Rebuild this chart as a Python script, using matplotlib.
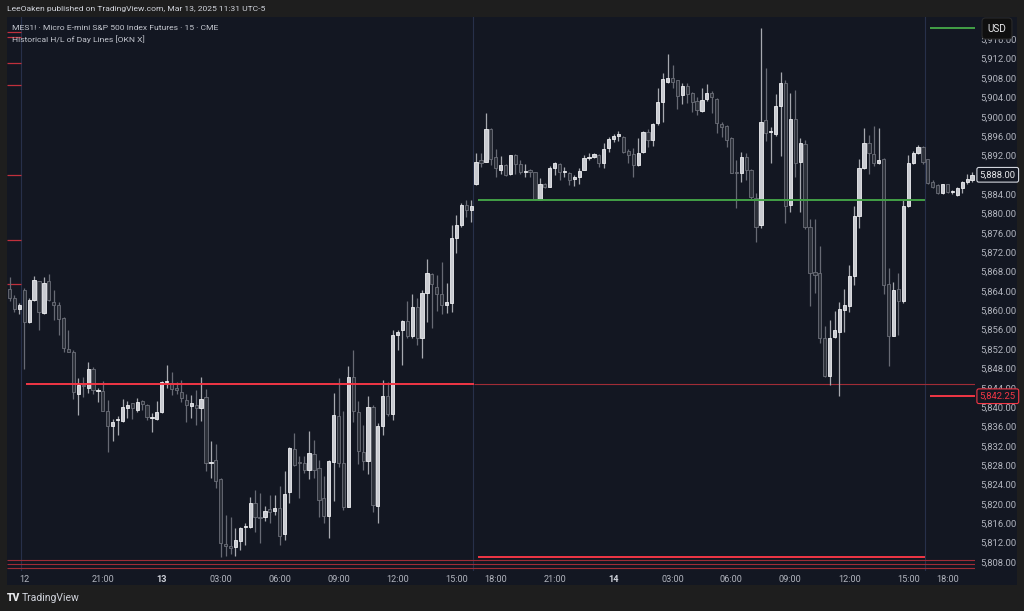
import numpy as np
import matplotlib.pyplot as plt
from matplotlib.ticker import FuncFormatter
from matplotlib.patches import Rectangle

plt.rcParams['font.family'] = ['Roboto', 'DejaVu Sans']

# 15 minute bars of MES1!, first bar index is -3 (end of the previous session)
first_bar = -3
opens = [
    5864.4, 5862.5, 5860.2, 5864.2, 5857.5, 5862.2, 5866.0, 5859.4, 5866.0, 5861.8,
    5861.1, 5858.5, 5852.0, 5851.4, 5842.8, 5844.5, 5844.0, 5847.8, 5843.3, 5843.3,
    5839.3, 5836.2, 5837.3, 5837.2, 5839.8, 5840.8, 5839.4, 5841.3, 5840.5, 5837.7,
    5837.6, 5838.9, 5845.1, 5845.0, 5844.0, 5843.2, 5841.5, 5840.2, 5840.5, 5839.8,
    5842.0, 5828.4, 5829.1, 5825.1, 5811.7, 5811.4, 5811.0, 5812.3, 5815.2, 5815.2,
    5820.1, 5817.1, 5817.2, 5818.9, 5818.6, 5819.1, 5813.8, 5822.5, 5831.3, 5828.5,
    5828.4, 5827.0, 5830.3, 5827.4, 5821.2, 5817.5, 5828.7, 5838.2, 5828.4, 5819.4,
    5846.3, 5838.9, 5830.8, 5828.9, 5840.1, 5819.6, 5836.0, 5842.3, 5838.6, 5854.9,
    5855.9, 5857.7, 5854.7, 5860.6, 5854.3, 5863.6, 5867.6, 5864.9, 5863.4, 5861.1,
    5861.6, 5874.9, 5877.6, 5881.8, 5880.7, 5886.1, 5891.0, 5890.7, 5897.4, 5891.7,
    5889.0, 5890.0, 5888.2, 5892.1, 5890.2, 5888.6, 5889.0, 5888.5, 5882.8, 5886.1,
    5885.5, 5889.3, 5890.2, 5888.6, 5888.4, 5887.1, 5887.6, 5889.0, 5891.5, 5891.6,
    5892.1, 5890.4, 5893.5, 5895.4, 5896.1, 5895.9, 5892.9, 5892.2, 5890.0, 5892.8,
    5896.9, 5895.2, 5898.6, 5903.1, 5907.1, 5907.9, 5907.5, 5904.5, 5906.4, 5905.0,
    5903.2, 5901.2, 5903.6, 5905.0, 5903.7, 5898.5, 5898.1, 5895.5, 5888.6, 5888.4,
    5891.6, 5889.0, 5883.3, 5877.6, 5899.3, 5896.9, 5896.4, 5902.2, 5907.0, 5881.8,
    5899.5, 5890.7, 5894.4, 5877.3, 5867.9, 5867.7, 5854.3, 5846.4, 5854.4, 5855.6,
    5860.1, 5860.9, 5867.0, 5879.4, 5889.5, 5894.5, 5892.3, 5890.5, 5891.2, 5865.5,
    5854.7, 5864.3, 5862.0, 5881.6, 5890.5, 5892.4, 5893.8, 5891.2, 5886.6, 5885.8,
    5884.3, 5886.0, 5884.5, 5883.8, 5885.2, 5886.5, 5886.9,
]
highs = [
    5866.8, 5863.2, 5861.5, 5864.6, 5862.5, 5867.1, 5866.1, 5866.8, 5867.6, 5864.2,
    5861.7, 5858.7, 5856.0, 5851.7, 5846.0, 5846.3, 5849.4, 5848.2, 5844.0, 5845.4,
    5841.5, 5837.6, 5838.2, 5841.6, 5841.3, 5840.9, 5841.8, 5841.5, 5840.6, 5838.7,
    5841.2, 5845.3, 5848.7, 5847.2, 5845.1, 5845.7, 5842.8, 5842.4, 5843.5, 5846.3,
    5843.7, 5832.9, 5832.3, 5825.3, 5817.7, 5817.4, 5815.0, 5815.3, 5816.0, 5821.4,
    5822.9, 5822.2, 5819.6, 5821.8, 5821.8, 5823.6, 5826.7, 5831.7, 5834.7, 5829.8,
    5829.9, 5835.1, 5833.2, 5829.1, 5825.8, 5829.1, 5843.0, 5846.0, 5839.1, 5848.5,
    5851.8, 5841.3, 5836.3, 5842.3, 5840.4, 5836.8, 5845.6, 5845.1, 5855.9, 5855.9,
    5857.9, 5862.0, 5863.4, 5862.5, 5864.2, 5870.5, 5867.8, 5867.3, 5870.0, 5865.6,
    5877.6, 5879.7, 5882.2, 5882.7, 5882.7, 5892.4, 5892.4, 5900.7, 5897.6, 5893.3,
    5891.9, 5890.2, 5892.1, 5892.2, 5891.1, 5890.2, 5889.1, 5888.6, 5887.3, 5886.4,
    5889.8, 5890.7, 5890.5, 5889.7, 5888.6, 5888.0, 5889.3, 5892.1, 5892.4, 5892.4,
    5892.3, 5894.5, 5895.9, 5896.4, 5897.0, 5896.0, 5893.3, 5893.5, 5895.7, 5897.1,
    5897.4, 5898.6, 5905.9, 5909.0, 5912.9, 5910.7, 5907.6, 5906.9, 5906.9, 5905.2,
    5904.1, 5905.9, 5906.7, 5905.4, 5903.8, 5899.0, 5898.3, 5895.9, 5891.1, 5892.8,
    5892.4, 5889.1, 5884.2, 5918.3, 5910.0, 5897.9, 5904.7, 5909.3, 5907.6, 5905.0,
    5905.5, 5895.5, 5895.1, 5878.8, 5878.8, 5873.3, 5856.8, 5858.1, 5859.9, 5861.8,
    5864.3, 5869.4, 5881.6, 5891.2, 5897.6, 5896.2, 5898.1, 5897.6, 5891.4, 5868.7,
    5865.9, 5867.8, 5882.9, 5892.1, 5893.0, 5894.2, 5894.0, 5891.2, 5886.9, 5886.2,
    5886.2, 5886.2, 5884.9, 5885.4, 5886.8, 5888.2, 5888.6,
]
lows = [
    5862.0, 5859.6, 5859.2, 5847.8, 5857.4, 5862.0, 5856.0, 5859.2, 5862.0, 5858.0,
    5854.8, 5851.4, 5851.3, 5841.6, 5838.4, 5842.0, 5842.9, 5842.7, 5841.0, 5839.1,
    5830.8, 5832.9, 5834.2, 5837.0, 5837.8, 5837.5, 5838.9, 5839.4, 5837.3, 5834.9,
    5837.3, 5838.7, 5843.9, 5842.5, 5842.8, 5841.1, 5836.9, 5837.8, 5836.4, 5837.1,
    5826.7, 5825.3, 5823.2, 5809.0, 5809.3, 5809.6, 5809.3, 5810.5, 5811.5, 5815.0,
    5814.3, 5811.9, 5816.5, 5816.0, 5817.7, 5811.5, 5812.5, 5820.1, 5827.8, 5821.2,
    5826.3, 5825.1, 5825.3, 5817.4, 5816.0, 5812.9, 5820.5, 5827.7, 5818.7, 5819.3,
    5837.0, 5828.2, 5827.0, 5826.2, 5818.4, 5816.1, 5834.2, 5838.2, 5837.3, 5851.7,
    5848.7, 5854.2, 5854.2, 5852.8, 5850.1, 5857.5, 5856.3, 5859.8, 5859.2, 5859.4,
    5859.7, 5871.8, 5877.3, 5879.3, 5878.3, 5885.9, 5889.7, 5890.7, 5890.0, 5887.5,
    5888.2, 5887.8, 5888.0, 5888.2, 5888.2, 5887.6, 5887.5, 5882.8, 5882.7, 5885.2,
    5885.4, 5888.0, 5886.9, 5887.6, 5885.9, 5885.7, 5886.1, 5888.9, 5891.1, 5891.4,
    5889.7, 5889.5, 5892.8, 5894.8, 5895.0, 5892.4, 5890.5, 5887.6, 5889.8, 5892.4,
    5893.7, 5893.9, 5898.3, 5899.0, 5906.9, 5905.9, 5901.5, 5902.6, 5902.8, 5901.0,
    5900.4, 5901.0, 5903.3, 5900.8, 5896.7, 5895.9, 5893.8, 5888.3, 5881.1, 5886.6,
    5886.9, 5883.1, 5874.2, 5877.1, 5895.0, 5890.4, 5896.0, 5891.8, 5878.1, 5880.4,
    5887.6, 5880.4, 5876.9, 5860.8, 5863.5, 5853.3, 5846.3, 5844.6, 5854.2, 5842.2,
    5855.6, 5859.7, 5865.2, 5877.1, 5889.1, 5888.2, 5889.8, 5890.2, 5863.4, 5848.5,
    5854.6, 5854.9, 5861.6, 5881.3, 5890.2, 5892.3, 5890.2, 5886.1, 5885.2, 5884.1,
    5884.1, 5884.2, 5884.1, 5883.6, 5884.3, 5886.2, 5886.6,
]
closes = [
    5862.5, 5860.2, 5861.0, 5857.5, 5862.2, 5866.2, 5859.7, 5865.6, 5862.2, 5861.1,
    5858.3, 5852.2, 5851.4, 5843.1, 5844.5, 5844.3, 5847.8, 5843.5, 5843.4, 5839.3,
    5836.0, 5836.9, 5837.6, 5840.0, 5840.5, 5839.8, 5841.0, 5840.6, 5838.0, 5837.9,
    5839.0, 5845.1, 5845.2, 5843.7, 5843.5, 5841.8, 5840.5, 5840.8, 5839.8, 5841.6,
    5828.4, 5828.7, 5824.8, 5811.9, 5811.4, 5810.8, 5812.5, 5815.1, 5815.3, 5820.1,
    5817.2, 5817.0, 5818.6, 5818.4, 5819.2, 5813.4, 5822.1, 5831.5, 5828.0, 5828.4,
    5827.0, 5830.6, 5827.1, 5820.8, 5817.5, 5828.9, 5838.4, 5828.4, 5819.3, 5846.3,
    5839.1, 5831.0, 5828.9, 5840.1, 5819.8, 5836.1, 5842.3, 5838.6, 5854.9, 5855.5,
    5857.7, 5854.7, 5860.6, 5854.2, 5863.6, 5867.8, 5865.4, 5863.4, 5861.1, 5861.7,
    5874.9, 5877.6, 5881.8, 5880.7, 5881.6, 5890.7, 5890.5, 5897.4, 5891.2, 5889.3,
    5890.0, 5888.0, 5892.1, 5890.2, 5888.5, 5888.7, 5888.5, 5882.9, 5886.1, 5885.5,
    5889.5, 5890.4, 5888.6, 5888.7, 5886.9, 5887.6, 5888.8, 5891.5, 5891.7, 5892.2,
    5890.5, 5893.3, 5895.4, 5896.0, 5896.2, 5892.8, 5892.1, 5890.0, 5892.6, 5896.9,
    5895.2, 5898.4, 5903.1, 5907.7, 5908.1, 5907.1, 5904.2, 5906.4, 5904.7, 5903.1,
    5901.4, 5903.4, 5905.0, 5904.0, 5898.6, 5897.8, 5895.2, 5888.4, 5888.3, 5891.6,
    5889.0, 5883.5, 5877.3, 5899.0, 5896.7, 5897.0, 5902.2, 5907.0, 5881.6, 5899.5,
    5890.5, 5894.5, 5877.3, 5867.7, 5867.3, 5854.3, 5846.4, 5854.3, 5855.9, 5860.2,
    5861.1, 5867.1, 5879.4, 5889.5, 5894.5, 5892.4, 5890.5, 5891.1, 5865.2, 5854.7,
    5864.2, 5862.0, 5881.6, 5890.5, 5892.4, 5893.8, 5890.7, 5886.4, 5885.5, 5884.3,
    5886.0, 5884.5, 5884.6, 5885.2, 5886.6, 5887.1, 5888.0,
]

session_starts = [0, 92, 184]
tick_bars = [0, 16, 28, 40, 52, 64, 76, 88, 96, 108, 120, 132, 144, 156, 168, 180, 188]
tick_labels = ['12', '21:00', '13', '03:00', '06:00', '09:00', '12:00', '15:00', '18:00',
               '21:00', '14', '03:00', '06:00', '09:00', '12:00', '15:00', '18:00']
day_labels = ['12', '13', '14']

# previous day high / low lines: (price, first bar, last bar)
prev_high_lines = [(5882.75, 92, 183), (5918.25, 184, 193)]
prev_low_lines = [(5844.75, 0, 91), (5809.0, 92, 183), (5842.25, 184, 193)]
# older day levels still drawn
old_low_lines = [(5844.75, 92, 193), (5808.5, -3, 193), (5807.5, -3, 193), (5806.75, -3, 193)]
old_stub_levels = [5917.6, 5916.5, 5911.0, 5906.6, 5888.0, 5874.6, 5865.4]

last_price = closes[-1]
day_low_price = 5842.25

BG = '#131722'
FRAME = '#1e1e1e'
TXT = '#b2b5be'

o = np.array(opens)
h = np.array(highs)
l = np.array(lows)
c = np.array(closes)
idx = np.arange(first_bar, first_bar + len(o))
up = c >= o

fig = plt.figure(figsize=(10.24, 6.11), dpi=100, facecolor=FRAME)
fig.patches.append(Rectangle((7 / 1024, 26 / 611), 1010 / 1024, 568 / 611,
                             transform=fig.transFigure, facecolor=BG, edgecolor='none', zorder=-5))
ax = fig.add_axes([7 / 1024, 40 / 611, 968 / 1024, 554 / 611])
ax.set_facecolor(BG)
for s in ax.spines.values():
    s.set_visible(False)

x0, x1 = first_bar - 0.52, 193.6
ax.set_xlim(x0, x1)
ax.set_ylim(5806.14, 5920.6)

for s in session_starts:
    ax.axvline(s - 0.6, color='#27304a', lw=0.8, zorder=1)

# wicks and bodies
wick_col = np.where(up, '#a7a9b0', '#676a74')
ax.vlines(idx, l, h, colors=wick_col, lw=0.9, zorder=3)
body_bottom = np.minimum(o, c)
body_h = np.maximum(np.abs(c - o), 0.25)
ax.bar(idx, body_h, bottom=body_bottom, width=0.66,
       color=np.where(up, '#c9cbd1', '#2c3039'),
       edgecolor=np.where(up, '#eeeff2', '#6c6f79'), linewidth=0.6, zorder=4)

# H/L of day lines
for p, a, b in old_low_lines:
    ax.hlines(p, a - 0.5, b + 0.5, color='#a02c36', lw=0.8, zorder=2)
for p in old_stub_levels:
    ax.hlines(p, x0, -0.6, color='#c0303c', lw=0.9, zorder=2)
for p, a, b in prev_low_lines:
    ax.hlines(p, a + 0.4, b + 0.5, color='#f23645', lw=1.4, zorder=5)
for p, a, b in prev_high_lines:
    ax.hlines(p, a + 0.4, b + 0.5, color='#43a047', lw=1.4, zorder=5)

# axes ticks
ax.yaxis.tick_right()
ax.set_yticks(np.arange(5808, 5917, 4))
ax.yaxis.set_major_formatter(FuncFormatter(lambda v, pos: '{:,.2f}'.format(v)))
ax.tick_params(axis='y', length=0, pad=3.6, labelsize=6.8, colors=TXT)
ax.set_xticks(tick_bars)
ax.set_xticklabels(tick_labels)
ax.tick_params(axis='x', length=0, pad=3, labelsize=6.6, colors=TXT)
for t in ax.get_xticklabels():
    if t.get_text() in day_labels[1:]:
        t.set_fontweight('bold')
        t.set_color('#d1d4dc')

# price labels on the scale
ytr = ax.get_yaxis_transform()
ax.text(1.0049, last_price, '{:,.2f}'.format(last_price), transform=ytr, ha='left', va='center',
        fontsize=6.8, color='#e6e7ea', clip_on=False, zorder=10,
        bbox=dict(boxstyle='round,pad=0.3,rounding_size=0.2', fc=BG, ec='#d1d4dc', lw=0.8))
ax.text(1.0049, day_low_price, '{:,.2f}'.format(day_low_price), transform=ytr, ha='left', va='center',
        fontsize=6.8, color='#f23645', clip_on=False, zorder=10,
        bbox=dict(boxstyle='round,pad=0.3,rounding_size=0.2', fc=BG, ec='#f23645', lw=0.8))

fig.text(997 / 1024, 1 - 28.5 / 611, 'USD', ha='center', va='center', fontsize=7.2, color='#e6e7ea',
         zorder=10, bbox=dict(boxstyle='round,pad=0.55,rounding_size=0.35', fc='#0f0f0f', ec='#2a2a2a', lw=0.8))

# header, legend, footer
fig.text(7 / 1024, 1 - 9 / 611, 'LeeOaken published on TradingView.com, Mar 13, 2025 11:31 UTC-5',
         ha='left', va='center', fontsize=6.1, color='#d1d4dc')
fig.text(12 / 1024, 1 - 28 / 611, 'MES1! \u00b7 Micro E-mini S&P 500 Index Futures \u00b7 15 \u00b7 CME',
         ha='left', va='center', fontsize=6.1, color='#c3c6ce', zorder=10)
fig.text(12 / 1024, 1 - 39.5 / 611, 'Historical H/L of Day Lines [OKN X]',
         ha='left', va='center', fontsize=6.1, color='#c3c6ce', zorder=10)
fig.text(7 / 1024, 1 - 598 / 611, 'TV', ha='left', va='center', fontsize=7.5, fontweight='heavy',
         color='#e6e7ea')
fig.text(22 / 1024, 1 - 598 / 611, 'TradingView', ha='left', va='center', fontsize=7.5, color='#d1d4dc')

fig.savefig('out.png', dpi=100, facecolor=FRAME)
